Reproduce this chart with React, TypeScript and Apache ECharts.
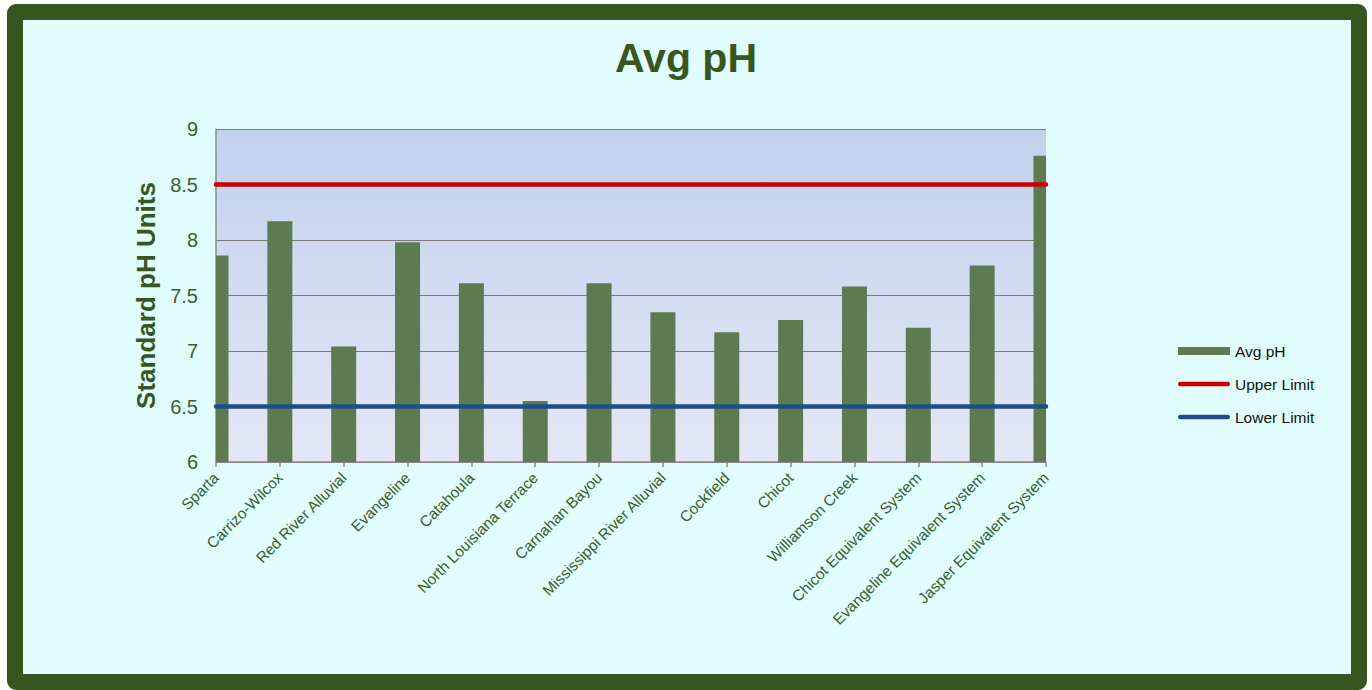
import React, { useEffect, useRef } from "react";
import * as echarts from "echarts";

const categories = [
  "Sparta",
  "Carrizo-Wilcox",
  "Red River Alluvial",
  "Evangeline",
  "Catahoula",
  "North Louisiana Terrace",
  "Carnahan Bayou",
  "Mississippi River Alluvial",
  "Cockfield",
  "Chicot",
  "Williamson Creek",
  "Chicot Equivalent System",
  "Evangeline Equivalent System",
  "Jasper Equivalent System",
];

const avgPH = [7.86, 8.17, 7.04, 7.98, 7.61, 6.55, 7.61, 7.35, 7.17, 7.28, 7.58, 7.21, 7.77, 8.76];
const upperLimit = [8.5, 8.5, 8.5, 8.5, 8.5, 8.5, 8.5, 8.5, 8.5, 8.5, 8.5, 8.5, 8.5, 8.5];
const lowerLimit = [6.5, 6.5, 6.5, 6.5, 6.5, 6.5, 6.5, 6.5, 6.5, 6.5, 6.5, 6.5, 6.5, 6.5];

const FONT = "'Liberation Sans', Arial, sans-serif";
const BAR_COLOR = "#5e7a50";
const LINE_ICON =
  "path://M2.25,0 L49.75,0 A2.25,2.25 0 0 1 49.75,4.5 L2.25,4.5 A2.25,2.25 0 0 1 2.25,0 Z";

export default function App() {
  const ref = useRef<HTMLDivElement>(null);

  useEffect(() => {
    document.body.style.margin = "0";
    if (!ref.current) return;
    const chart = echarts.init(ref.current, undefined, { renderer: "svg" });
    chart.setOption({
      animation: false,
      backgroundColor: "transparent",
      textStyle: { fontFamily: FONT },
      title: {
        text: "Avg pH",
        left: "center",
        top: 32,
        textStyle: { fontSize: 41, fontWeight: "bold", color: "#38571f", fontFamily: FONT },
      },
      legend: {
        orient: "vertical",
        left: 1173,
        top: 338,
        itemWidth: 52,
        itemHeight: 8,
        itemGap: 17,
        textStyle: { fontSize: 15.5, color: "#111", fontFamily: FONT },
        data: [
          { name: "Avg pH", icon: "rect" },
          { name: "Upper Limit", icon: LINE_ICON },
          { name: "Lower Limit", icon: LINE_ICON },
        ],
      },
      grid: {
        left: 216,
        top: 129,
        width: 830,
        height: 333,
        show: true,
        borderWidth: 0,
        backgroundColor: new echarts.graphic.LinearGradient(0, 0, 0, 1, [
          { offset: 0, color: "#c2d1ee" },
          { offset: 1, color: "#e3e7f5" },
        ]),
      },
      xAxis: {
        type: "category",
        data: categories,
        boundaryGap: false,
        axisLine: { show: true, lineStyle: { color: "#8c8c8c", width: 1.5 } },
        axisTick: { show: true, length: 5, lineStyle: { color: "#8c8c8c", width: 1.5 } },
        axisLabel: {
          rotate: 45,
          interval: 0,
          fontSize: 15.4,
          color: "#3b5e2b",
          fontFamily: FONT,
          margin: 13,
        },
      },
      yAxis: {
        type: "value",
        min: 6,
        max: 9,
        interval: 0.5,
        name: "Standard pH Units",
        nameLocation: "middle",
        nameRotate: 90,
        nameGap: 55,
        nameTextStyle: { fontSize: 26, fontWeight: "bold", color: "#38571f", fontFamily: FONT },
        axisLine: { show: true, lineStyle: { color: "#8c8c8c", width: 1.5 } },
        axisTick: { show: false },
        axisLabel: { fontSize: 20, color: "#3b5e2b", fontFamily: FONT, margin: 18 },
        splitLine: { show: true, lineStyle: { color: "#7a7a7a", width: 1 } },
      },
      series: [
        {
          name: "Avg pH",
          type: "custom",
          clip: true,
          data: avgPH.map((v, i) => [i, v]),
          encode: { x: 0, y: 1 },
          itemStyle: { color: BAR_COLOR },
          renderItem: (params: any, api: any) => {
            const top = api.coord([api.value(0), api.value(1)]);
            const base = api.coord([api.value(0), 6]);
            const w = 25;
            return {
              type: "rect",
              shape: { x: top[0] - w / 2, y: top[1], width: w, height: base[1] - top[1] },
              style: { fill: BAR_COLOR },
            };
          },
          z: 2,
        },
        {
          name: "Upper Limit",
          type: "line",
          data: upperLimit,
          symbol: "none",
          lineStyle: { color: "#cc0000", width: 4.5, cap: "round" },
          itemStyle: { color: "#cc0000" },
          z: 3,
        },
        {
          name: "Lower Limit",
          type: "line",
          data: lowerLimit,
          symbol: "none",
          lineStyle: { color: "#1f4e89", width: 4.5, cap: "round" },
          itemStyle: { color: "#1f4e89" },
          z: 3,
        },
      ],
    });
    return () => chart.dispose();
  }, []);

  return (
    <div style={{ position: "absolute", left: 0, top: 0, width: 1372, height: 690, background: "#ffffff" }}>
      <div
        style={{
          position: "absolute",
          left: 7,
          top: 4,
          width: 1360,
          height: 686,
          boxSizing: "border-box",
          border: "16px solid #36561f",
          borderRadius: 9,
          background: "#e0fcfd",
        }}
      />
      <div ref={ref} style={{ position: "absolute", left: 0, top: 0, width: 1372, height: 690 }} />
    </div>
  );
}
